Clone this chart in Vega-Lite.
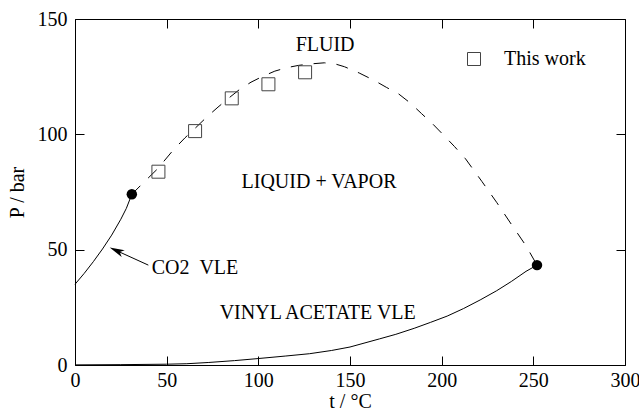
{
  "$schema": "https://vega.github.io/schema/vega-lite/v6.json",
  "width": 550,
  "height": 346,
  "autosize": {"type": "none"},
  "padding": {"left": 75, "top": 19, "right": 14, "bottom": 49},
  "background": "white",
  "config": {
    "view": {"stroke": "black", "strokeWidth": 1},
    "font": "Liberation Serif",
    "axis": {
      "labelFont": "Liberation Serif",
      "labelFontSize": 20,
      "labelColor": "black",
      "titleFont": "Liberation Serif",
      "titleFontSize": 20,
      "titleFontWeight": "normal",
      "titleColor": "black",
      "domain": false,
      "ticks": false,
      "grid": true,
      "gridColor": "black",
      "gridOpacity": 1,
      "gridWidth": 1,
      "labelFlush": false,
      "labelOverlap": false
    }
  },
  "datasets": {
    "co2": [
      {"t": 0, "p": 35.0}, {"t": 5, "p": 39.7}, {"t": 10, "p": 44.8}, {"t": 15, "p": 50.3},
      {"t": 20, "p": 56.3}, {"t": 25, "p": 63.2}, {"t": 28, "p": 67.9}, {"t": 31, "p": 74.0}
    ],
    "vinyl": [
      {"t": 0, "p": 0.05}, {"t": 25, "p": 0.15}, {"t": 50, "p": 0.35}, {"t": 61, "p": 0.55},
      {"t": 73, "p": 1.1}, {"t": 87, "p": 1.9}, {"t": 100, "p": 2.8}, {"t": 115, "p": 3.9},
      {"t": 128, "p": 4.9}, {"t": 140, "p": 6.3}, {"t": 150, "p": 7.8}, {"t": 166, "p": 11.3},
      {"t": 175, "p": 13.3}, {"t": 185, "p": 15.9}, {"t": 194, "p": 18.5}, {"t": 203, "p": 21.2},
      {"t": 212, "p": 24.5}, {"t": 221, "p": 28.2}, {"t": 230, "p": 32.2}, {"t": 238, "p": 36.2},
      {"t": 246, "p": 40.6}, {"t": 252, "p": 43.3}
    ],
    "critical": [
      {"t": 31, "p": 74.0}, {"t": 37, "p": 78.8}, {"t": 45, "p": 85.0}, {"t": 53.6, "p": 93.2},
      {"t": 60, "p": 98.5}, {"t": 66, "p": 103.0}, {"t": 72, "p": 107.6}, {"t": 78, "p": 111.8},
      {"t": 84, "p": 115.8}, {"t": 90, "p": 119.6}, {"t": 96, "p": 122.6}, {"t": 102, "p": 125.0},
      {"t": 109, "p": 127.4}, {"t": 115.5, "p": 128.9}, {"t": 122, "p": 129.9}, {"t": 128, "p": 130.5},
      {"t": 136, "p": 131.0}, {"t": 142, "p": 130.5}, {"t": 147, "p": 129.3}, {"t": 155, "p": 126.6},
      {"t": 163.6, "p": 123.2}, {"t": 170, "p": 120.3}, {"t": 176.4, "p": 117.6}, {"t": 183, "p": 113.5},
      {"t": 189, "p": 109.0}, {"t": 195, "p": 104.6}, {"t": 201, "p": 99.7}, {"t": 207, "p": 94.7},
      {"t": 213, "p": 89.4}, {"t": 222, "p": 79.5}, {"t": 230, "p": 70.5}, {"t": 238, "p": 61.0},
      {"t": 246, "p": 51.7}, {"t": 252, "p": 43.3}
    ],
    "work": [
      {"t": 45.5, "p": 83.8, "series": "This work"},
      {"t": 65.5, "p": 101.4, "series": "This work"},
      {"t": 85.5, "p": 115.6, "series": "This work"},
      {"t": 105.5, "p": 121.7, "series": "This work"},
      {"t": 125.5, "p": 126.9, "series": "This work"}
    ],
    "cp": [
      {"t": 31, "p": 74.0, "name": "CO2"},
      {"t": 252, "p": 43.3, "name": "vinyl acetate"}
    ],
    "arrow": [
      {"t": 40.0, "p": 43.3},
      {"t": 21.5, "p": 50.0}
    ],
    "head": [
      {"t": 22.6, "p": 49.6}
    ],
    "labelsCenter": [
      {"t": 136.4, "p": 138.7, "text": "FLUID"},
      {"t": 133.1, "p": 79.3, "text": "LIQUID + VAPOR"},
      {"t": 132.4, "p": 22.5, "text": "VINYL ACETATE VLE"}
    ],
    "labelsLeft": [
      {"t": 41.8, "p": 41.9, "text": "CO2 \u00a0VLE"}
    ]
  },
  "resolve": {"axis": {"x": "independent", "y": "independent"}},
  "layer": [
    {
      "data": {"name": "co2"},
      "mark": {"type": "line", "color": "black", "strokeWidth": 1},
      "encoding": {
        "x": {
          "field": "t", "type": "quantitative",
          "scale": {"domain": [0, 300], "nice": false, "zero": false},
          "axis": {
            "orient": "bottom",
            "title": "t / °C",
            "values": [0, 50, 100, 150, 200, 250, 300],
            "gridDash": [9, 328, 9, 1000],
            "labelPadding": 5,
            "titlePadding": 1
          }
        },
        "y": {
          "field": "p", "type": "quantitative",
          "scale": {"domain": [0, 150], "nice": false, "zero": false},
          "axis": {
            "orient": "left",
            "title": "P / bar",
            "values": [0, 50, 100, 150],
            "gridDash": [9, 532, 9, 1000],
            "labelPadding": 8,
            "titlePadding": 10
          }
        }
      }
    },
    {
      "data": {"name": "vinyl"},
      "mark": {"type": "line", "color": "black", "strokeWidth": 1},
      "encoding": {
        "x": {
          "field": "t", "type": "quantitative",
          "axis": {
            "orient": "bottom", "title": null, "labels": false,
            "values": [10,20,30,40,60,70,80,90,110,120,130,140,160,170,180,190,210,220,230,240,260,270,280,290],
            "gridDash": [5, 336, 5, 1000]
          }
        },
        "y": {
          "field": "p", "type": "quantitative",
          "axis": {
            "orient": "left", "title": null, "labels": false,
            "values": [5,10,15,20,25,30,35,40,45,55,60,65,70,75,80,85,90,95,105,110,115,120,125,130,135,140,145],
            "gridDash": [5, 540, 5, 1000]
          }
        }
      }
    },
    {
      "data": {"name": "critical"},
      "mark": {"type": "line", "color": "black", "strokeWidth": 1, "strokeDash": [12, 11]},
      "encoding": {
        "x": {"field": "t", "type": "quantitative", "axis": null},
        "y": {"field": "p", "type": "quantitative", "axis": null}
      }
    },
    {
      "data": {"name": "arrow"},
      "mark": {"type": "line", "color": "black", "strokeWidth": 1},
      "encoding": {
        "x": {"field": "t", "type": "quantitative", "axis": null},
        "y": {"field": "p", "type": "quantitative", "axis": null}
      }
    },
    {
      "data": {"name": "head"},
      "mark": {"type": "point", "filled": true, "color": "black", "shape": "M -1 0 L 1 -0.5 L 0.5 0 L 1 0.5 Z", "size": 220, "angle": 24.3, "opacity": 1},
      "encoding": {
        "x": {"field": "t", "type": "quantitative", "axis": null},
        "y": {"field": "p", "type": "quantitative", "axis": null}
      }
    },
    {
      "data": {"name": "work"},
      "mark": {"type": "point", "filled": false, "color": "#444", "strokeWidth": 1, "size": 169, "opacity": 1},
      "encoding": {
        "x": {"field": "t", "type": "quantitative", "axis": null},
        "y": {"field": "p", "type": "quantitative", "axis": null},
        "shape": {
          "field": "series", "type": "nominal",
          "scale": {"range": ["square"]},
          "legend": {
            "title": null,
            "orient": "none",
            "legendX": 389,
            "legendY": 30,
            "padding": 0,
            "labelFont": "Liberation Serif",
            "labelFontSize": 20,
            "labelColor": "black",
            "labelOffset": 20,
            "symbolSize": 169,
            "symbolStrokeWidth": 1,
            "symbolStrokeColor": "#444"
          }
        }
      }
    },
    {
      "data": {"name": "cp"},
      "mark": {"type": "point", "filled": true, "color": "black", "size": 110, "shape": "circle", "opacity": 1},
      "encoding": {
        "x": {"field": "t", "type": "quantitative", "axis": null},
        "y": {"field": "p", "type": "quantitative", "axis": null}
      }
    },
    {
      "data": {"name": "labelsCenter"},
      "mark": {"type": "text", "font": "Liberation Serif", "fontSize": 20, "color": "black", "baseline": "middle", "align": "center"},
      "encoding": {
        "x": {"field": "t", "type": "quantitative", "axis": null},
        "y": {"field": "p", "type": "quantitative", "axis": null},
        "text": {"field": "text"}
      }
    },
    {
      "data": {"name": "labelsLeft"},
      "mark": {"type": "text", "font": "Liberation Serif", "fontSize": 20, "color": "black", "baseline": "middle", "align": "left"},
      "encoding": {
        "x": {"field": "t", "type": "quantitative", "axis": null},
        "y": {"field": "p", "type": "quantitative", "axis": null},
        "text": {"field": "text"}
      }
    }
  ]
}
